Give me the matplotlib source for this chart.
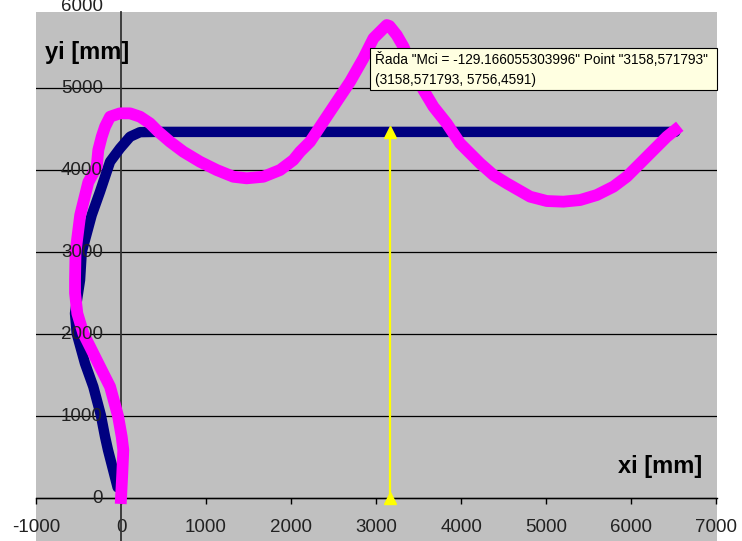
import matplotlib
matplotlib.use("Agg")
import matplotlib.pyplot as plt
from matplotlib.patches import Rectangle
from matplotlib.transforms import offset_copy

plt.rcParams['font.family'] = ['Liberation Sans', 'DejaVu Sans']

# navy series (xi, yi)
blue_x = [-40, -153, -188, -237, -326, -424, -521, -541, -520, -482, -462, -345,
          -247, -129, -12, 106, 224, 400, 1000, 2000, 3000, 4000, 5000, 6000, 6520]
blue_y = [130, 585, 748, 1010, 1358, 1642, 2007, 2252, 2400, 2659, 3000, 3450,
          3736, 4101, 4264, 4406, 4462, 4465, 4465, 4465, 4465, 4465, 4465, 4465, 4465]

# magenta series "Mci = -129.166055303996"
mag_x = [0, 15, 27, 8, -35, -129, -210, -267, -443, -514, -541, -541, -535, -480,
         -385, -286, -267, -227, -188, -129, -12, 106, 224, 341, 439, 576, 733, 929,
         1126, 1321, 1478, 1674, 1871, 2027, 2106, 2224, 2380, 2537, 2694, 2851, 2969,
         3126, 3158, 3243, 3322, 3439, 3557, 3675, 3831, 3988, 4224, 4380, 4537, 4812,
         5008, 5204, 5400, 5596, 5792, 5949, 6106, 6263, 6420, 6518]
mag_y = [0, 300, 585, 748, 1000, 1358, 1524, 1642, 2007, 2252, 2500, 2659, 3000, 3450,
         3850, 4040, 4244, 4406, 4528, 4650, 4691, 4691, 4650, 4569, 4467, 4345, 4223, 4101,
         4000, 3918, 3899, 3918, 4000, 4122, 4223, 4345, 4589, 4833, 5077, 5362, 5606,
         5768, 5756, 5646, 5504, 5220, 4976, 4772, 4569, 4325, 4081, 3939, 3838, 3675,
         3622, 3614, 3634, 3695, 3797, 3919, 4081, 4244, 4406, 4488]

# yellow marker line at the selected point
sel_x = [3158.571793, 3158.571793]
sel_y = [0, 4465]

xticks = [-1000, 0, 1000, 2000, 3000, 4000, 5000, 6000, 7000]
yticks = [0, 1000, 2000, 3000, 4000, 5000, 6000]

tip_line1 = 'Řada "Mci = -129.166055303996" Point "3158,571793"'
tip_line2 = '(3158,571793, 5756,4591)'

fig = plt.figure(figsize=(7.42, 5.41), dpi=100)
ax = fig.add_axes([36/742, 0, 681/742, 529/541])
ax.set_facecolor('#C0C0C0')
ax.set_xlim(-1000, 7010)
ax.set_ylim(-524, 5927)

ax.plot(blue_x, blue_y, color='#000080', lw=7.5, solid_joinstyle='round',
        solid_capstyle='round', zorder=3)
ax.plot(mag_x, mag_y, color='#FF00FF', lw=8.5, solid_joinstyle='round',
        solid_capstyle='projecting', zorder=4)
ax.plot(sel_x, sel_y, color='#FFFF00', lw=1.6, marker='^', markersize=9,
        markeredgecolor='#FFFF00', zorder=5)

for s in ['top', 'right']:
    ax.spines[s].set_visible(False)
ax.spines['left'].set_position(('data', 0))
ax.spines['bottom'].set_position(('data', 0))
ax.spines['left'].set_color('#333333')
ax.spines['left'].set_linewidth(1.3)
ax.spines['bottom'].set_color('black')
ax.spines['bottom'].set_linewidth(1.0)

ax.set_xticks(xticks)
ax.set_xticklabels([str(v) for v in xticks], fontsize=13.5, color='#222222')
ax.tick_params(axis='x', direction='out', length=4, width=1, pad=11)

ax.set_yticks(yticks[:-1])
ax.set_yticklabels([])
ax.tick_params(axis='y', length=0)
ax.yaxis.grid(True, color='black', lw=0.9)
ax.set_axisbelow(True)

lab_tr = offset_copy(ax.transData, fig=fig, x=-13, y=0, units='points')
for v in yticks:
    ax.text(0, v, str(v), transform=lab_tr, ha='right', va='center',
            fontsize=13.5, color='#222222', clip_on=False, zorder=6)

fig.text(45/742, 1 - 53/541, 'yi [mm]', fontsize=17, fontweight='bold',
         ha='left', va='center')
fig.text(702/742, 1 - 466/541, 'xi [mm]', fontsize=17, fontweight='bold',
         ha='right', va='center')

# tooltip
fig.patches.append(Rectangle((370/742, 1 - 90/541), 347/742, 42/541,
                             transform=fig.transFigure, facecolor='#FFFFE1',
                             edgecolor='black', lw=0.8, zorder=10))
fig.text(375/742, 1 - 60/541, tip_line1, fontsize=9.8, ha='left', va='center',
         zorder=11)
fig.text(375/742, 1 - 80/541, tip_line2, fontsize=9.8, ha='left', va='center',
         zorder=11)

fig.savefig('out.png', dpi=100)
